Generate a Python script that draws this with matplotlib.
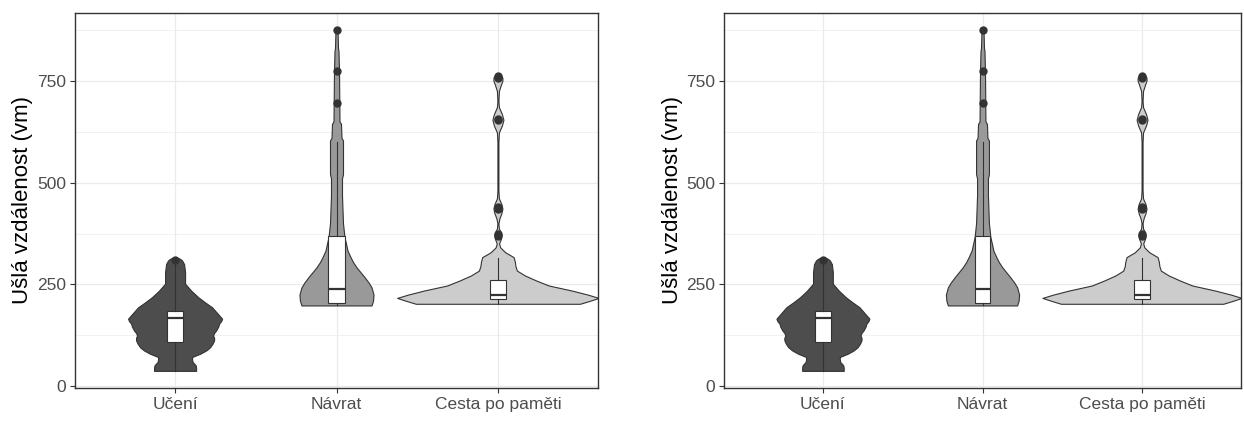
import numpy as np
import matplotlib
matplotlib.use("Agg")
import matplotlib.pyplot as plt

plt.rcParams['font.family'] = ['Liberation Sans', 'DejaVu Sans']

# --- data -------------------------------------------------------------
categories = ["Učení", "Návrat", "Cesta po paměti"]
fills = ["#4D4D4D", "#999999", "#CCCCCC"]

# violin outlines: distance values and relative density at each value
uceni_y = [38, 46, 52, 60, 66, 72, 80, 88, 96, 105, 113, 119, 125, 131, 137, 146,
           154, 160, 166, 180, 194, 206, 219, 235, 252, 265, 280, 300, 309, 313, 316]
uceni_d = [21, 21, 20.5, 17.5, 17, 17, 25, 31, 35, 37.5, 39, 39, 38, 39, 41, 43,
           44, 46, 47, 42, 37, 30, 23, 16, 10, 10, 10, 9, 7, 5, 2]

navrat_y = [198.5, 210, 225, 243, 255, 268, 280, 292, 305, 317, 333, 350, 366, 400,
            468, 510, 521, 560, 603, 610, 644, 650, 700, 774, 823, 830, 876]
navrat_d = [35, 36.5, 37, 35, 32, 28, 24, 20, 16.5, 14, 11, 9.5, 8, 6.5,
            5.5, 5.5, 6.5, 6.5, 6.5, 5, 4.5, 3, 2.8, 2.5, 2, 1.5, 1]

cesta_y = [202.6, 210, 217, 225, 235, 247.5, 260, 272, 284, 295, 305, 317, 329, 341,
           350, 353, 362, 370, 378, 387, 400, 412, 425, 436, 447, 461, 480, 600,
           623, 640, 654, 668, 685, 700, 725, 740, 750, 757, 762, 765]
cesta_d = [82, 92, 100.7, 90, 74, 50.7, 38, 27, 19, 17.5, 17, 15.7, 7.3, 2.3,
           1.2, 1.5, 3, 3.5, 3, 1, 0.5, 1.5, 3.5, 4.5, 3.5, 1, 0.5, 0.5,
           1, 4, 5.5, 4, 1, 0.5, 1, 3, 4.5, 4.5, 3.5, 0.5]

violin_y = [uceni_y, navrat_y, cesta_y]
violin_d = [uceni_d, navrat_d, cesta_d]

# boxplot summaries
box_whislo = [38, 200, 202]
box_q1 = [109, 204, 215]
box_med = [168, 240, 225]
box_q3 = [184, 368, 261]
box_whishi = [300, 600, 315]
box_fliers = [[311], [694, 774, 875], [370, 374, 435, 440, 653, 657, 757, 761]]

yticks = [0, 250, 500, 750]
yminor = [125, 375, 625, 875]
ylabel = "Ušlá vzdálenost (vm)"

# --- drawing ----------------------------------------------------------
W, H = 1244, 421
fig = plt.figure(figsize=(W / 100, H / 100), dpi=100)

panels = [(75, 598), (724, 1241)]
top_px, bot_px = 13, 388

GRID = "#EBEBEB"
DARK = "#333333"
density_scale = 0.0062


def draw_panel(ax):
    pos = np.arange(1, len(categories) + 1)
    for p, ys, ds, col in zip(pos, violin_y, violin_d, fills):
        ys = np.asarray(ys, float)
        hw = np.asarray(ds, float) * density_scale
        ax.fill_betweenx(ys, p - hw, p + hw, facecolor=col, edgecolor=DARK,
                         linewidth=0.8, zorder=2)
    stats = []
    for i, name in enumerate(categories):
        stats.append(dict(label=name, whislo=box_whislo[i], q1=box_q1[i],
                          med=box_med[i], q3=box_q3[i], whishi=box_whishi[i],
                          fliers=box_fliers[i]))
    ax.bxp(stats, positions=pos, widths=0.1, showcaps=False, patch_artist=True,
           boxprops=dict(facecolor="white", edgecolor=DARK, linewidth=0.8),
           medianprops=dict(color=DARK, linewidth=1.6),
           whiskerprops=dict(color=DARK, linewidth=0.8),
           flierprops=dict(marker="o", markerfacecolor=DARK, markeredgecolor=DARK,
                           markersize=5, linestyle="none"),
           manage_ticks=False, zorder=3)

    ax.set_xlim(0.38, 3.62)
    ax.set_ylim(-4, 916)
    ax.set_xticks(pos)
    ax.set_xticklabels(categories)
    ax.set_yticks(yticks)
    ax.set_yticks(yminor, minor=True)
    ax.grid(True, which="major", color=GRID, linewidth=0.9, zorder=0)
    ax.grid(True, which="minor", axis="y", color=GRID, linewidth=0.5, zorder=0)
    ax.set_axisbelow(True)
    ax.tick_params(axis="both", which="major", length=3.5, width=0.8,
                   color=DARK, labelcolor="#4D4D4D", labelsize=12.5, pad=3)
    ax.tick_params(axis="y", which="minor", length=0)
    for s in ax.spines.values():
        s.set_color(DARK)
        s.set_linewidth(1.0)
    ax.set_ylabel(ylabel, fontsize=16, color="black")


for x0, x1 in panels:
    ax = fig.add_axes([x0 / W, (H - bot_px) / H, (x1 - x0) / W,
                       (bot_px - top_px) / H])
    draw_panel(ax)
    ax.yaxis.set_label_coords(-0.08, 0.5)

fig.savefig("out.png", dpi=100)
